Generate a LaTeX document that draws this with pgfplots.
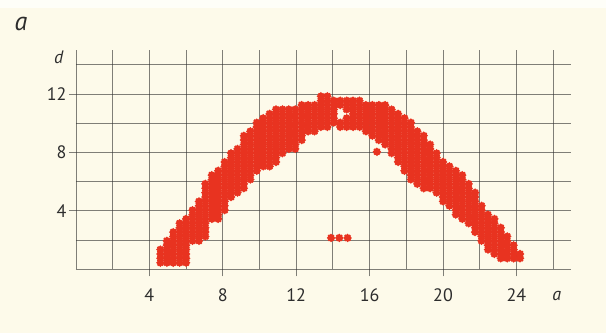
\documentclass[border=0pt]{standalone}
\usepackage{pgfplots}
\pgfplotsset{compat=1.18}
\usepackage{fontspec}
\setmainfont{PT Sans}

\definecolor{paper}{RGB}{253,250,234}
\definecolor{paperedge}{RGB}{254,254,248}
\definecolor{gridc}{RGB}{50,50,50}
\definecolor{dotred}{RGB}{232,51,32}
\definecolor{labelc}{RGB}{45,45,45}

% small eight-petal flower used for every observation
\pgfdeclareplotmark{flower}{%
  \pgfpathcircle{\pgfpointorigin}{0.58\pgfplotmarksize}%
  \pgfpathcircle{\pgfpointpolar{0}{0.68\pgfplotmarksize}}{0.32\pgfplotmarksize}%
  \pgfpathcircle{\pgfpointpolar{45}{0.68\pgfplotmarksize}}{0.32\pgfplotmarksize}%
  \pgfpathcircle{\pgfpointpolar{90}{0.68\pgfplotmarksize}}{0.32\pgfplotmarksize}%
  \pgfpathcircle{\pgfpointpolar{135}{0.68\pgfplotmarksize}}{0.32\pgfplotmarksize}%
  \pgfpathcircle{\pgfpointpolar{180}{0.68\pgfplotmarksize}}{0.32\pgfplotmarksize}%
  \pgfpathcircle{\pgfpointpolar{225}{0.68\pgfplotmarksize}}{0.32\pgfplotmarksize}%
  \pgfpathcircle{\pgfpointpolar{270}{0.68\pgfplotmarksize}}{0.32\pgfplotmarksize}%
  \pgfpathcircle{\pgfpointpolar{315}{0.68\pgfplotmarksize}}{0.32\pgfplotmarksize}%
  \pgfusepathqfill}

\begin{document}
\begin{tikzpicture}
\fill[paper] (0pt,0pt) rectangle (606pt,333pt);
\fill[paperedge] (0pt,325pt) rectangle (606pt,333pt);

\begin{axis}[
  at={(76pt,63.7pt)}, anchor=south west,
  x=18.35pt, y=14.6pt,
  xmin=0, xmax=27, ymin=0, ymax=15,
  axis lines=left,
  axis line style={-, draw=gridc, draw opacity=0.62, line width=0.95pt},
  axis on top,
  grid=both,
  grid style={draw=gridc, draw opacity=0.62, line width=0.95pt},
  minor grid style={draw=gridc, draw opacity=0.62, line width=0.95pt},
  major grid style={draw=gridc, draw opacity=0.62, line width=0.95pt},
  xtick={4,8,...,24}, minor xtick={2,6,...,26},
  ytick={4,8,12}, minor ytick={2,6,10,14},
  tick align=outside,
  major tick length=7pt, minor tick length=0pt,
  tick style={draw=gridc, draw opacity=0.62, line width=0.95pt},
  ticklabel style={font=\fontsize{18}{18}\selectfont, text=labelc},
  xticklabel style={yshift=-9pt},
  yticklabel style={xshift=1pt},
  /pgf/number format/assume math mode=true,
  xlabel={\textit{a}}, ylabel={\textit{d}},
  every axis x label/.style={at={(axis cs:26.2,-1.8)}, anchor=center,
    font=\fontsize{18}{18}\selectfont, text=labelc},
  every axis y label/.style={at={(axis cs:-0.93,14.5)}, anchor=center,
    font=\fontsize{18}{18}\selectfont, text=labelc},
  clip=false,
]
\addplot[only marks, mark=flower, mark size=4.3pt, color=dotred] coordinates {
(4.6,0.45)(4.6,0.75)(4.6,1.05)(4.6,1.35)
(4.95,0.45)(4.95,0.75)(4.95,1.05)(4.95,1.35)(4.95,1.65)(4.95,1.95)
(5.3,0.45)(5.3,0.75)(5.3,1.05)(5.3,1.35)(5.3,1.65)(5.3,1.95)(5.3,2.25)(5.3,2.55)
(5.65,0.45)(5.65,0.75)(5.65,1.05)(5.65,1.35)(5.65,1.65)(5.65,1.95)(5.65,2.25)(5.65,2.55)(5.65,2.85)(5.65,3.15)
(6.0,0.45)(6.0,0.75)(6.0,1.05)(6.0,1.35)(6.0,1.65)(6.0,1.95)(6.0,2.25)(6.0,2.55)(6.0,2.85)(6.0,3.15)(6.0,3.45)
(6.35,1.95)(6.35,2.25)(6.35,2.55)(6.35,2.85)(6.35,3.15)(6.35,3.45)(6.35,3.75)(6.35,4.05)
(6.7,1.95)(6.7,2.25)(6.7,2.55)(6.7,2.85)(6.7,3.15)(6.7,3.45)(6.7,3.75)(6.7,4.05)(6.7,4.35)(6.7,4.65)
(7.05,2.25)(7.05,2.55)(7.05,2.85)(7.05,3.15)(7.05,3.45)(7.05,3.75)(7.05,4.05)(7.05,4.35)(7.05,4.65)(7.05,4.95)(7.05,5.25)(7.05,5.55)(7.05,5.85)
(7.4,3.45)(7.4,3.75)(7.4,4.05)(7.4,4.35)(7.4,4.65)(7.4,4.95)(7.4,5.25)(7.4,5.55)(7.4,5.85)(7.4,6.15)(7.4,6.45)
(7.75,3.45)(7.75,3.75)(7.75,4.05)(7.75,4.35)(7.75,4.65)(7.75,4.95)(7.75,5.25)(7.75,5.55)(7.75,5.85)(7.75,6.15)(7.75,6.45)(7.75,6.75)
(8.1,4.05)(8.1,4.35)(8.1,4.65)(8.1,4.95)(8.1,5.25)(8.1,5.55)(8.1,5.85)(8.1,6.15)(8.1,6.45)(8.1,6.75)(8.1,7.05)(8.1,7.35)
(8.45,4.95)(8.45,5.25)(8.45,5.55)(8.45,5.85)(8.45,6.15)(8.45,6.45)(8.45,6.75)(8.45,7.05)(8.45,7.35)(8.45,7.65)(8.45,7.95)
(8.8,5.25)(8.8,5.55)(8.8,5.85)(8.8,6.15)(8.8,6.45)(8.8,6.75)(8.8,7.05)(8.8,7.35)(8.8,7.65)(8.8,7.95)(8.8,8.25)
(9.15,5.55)(9.15,5.85)(9.15,6.15)(9.15,6.45)(9.15,6.75)(9.15,7.05)(9.15,7.35)(9.15,7.65)(9.15,7.95)(9.15,8.25)(9.15,8.55)(9.15,8.85)(9.15,9.15)
(9.5,6.15)(9.5,6.45)(9.5,6.75)(9.5,7.05)(9.5,7.35)(9.5,7.65)(9.5,7.95)(9.5,8.25)(9.5,8.55)(9.5,8.85)(9.5,9.15)(9.5,9.45)
(9.85,6.75)(9.85,7.05)(9.85,7.35)(9.85,7.65)(9.85,7.95)(9.85,8.25)(9.85,8.55)(9.85,8.85)(9.85,9.15)(9.85,9.45)(9.85,9.75)(9.85,10.05)
(10.2,7.05)(10.2,7.35)(10.2,7.65)(10.2,7.95)(10.2,8.25)(10.2,8.55)(10.2,8.85)(10.2,9.15)(10.2,9.45)(10.2,9.75)(10.2,10.05)(10.2,10.35)
(10.55,7.05)(10.55,7.35)(10.55,7.65)(10.55,7.95)(10.55,8.25)(10.55,8.55)(10.55,8.85)(10.55,9.15)(10.55,9.45)(10.55,9.75)(10.55,10.05)(10.55,10.35)(10.55,10.65)
(10.9,7.35)(10.9,7.65)(10.9,7.95)(10.9,8.25)(10.9,8.55)(10.9,8.85)(10.9,9.15)(10.9,9.45)(10.9,9.75)(10.9,10.05)(10.9,10.35)(10.9,10.65)(10.9,10.95)
(11.25,7.95)(11.25,8.25)(11.25,8.55)(11.25,8.85)(11.25,9.15)(11.25,9.45)(11.25,9.75)(11.25,10.05)(11.25,10.35)(11.25,10.65)(11.25,10.95)
(11.6,8.25)(11.6,8.55)(11.6,8.85)(11.6,9.15)(11.6,9.45)(11.6,9.75)(11.6,10.05)(11.6,10.35)(11.6,10.65)(11.6,10.95)
(11.95,8.25)(11.95,8.55)(11.95,8.85)(11.95,9.15)(11.95,9.45)(11.95,9.75)(11.95,10.05)(11.95,10.35)(11.95,10.65)(11.95,10.95)
(12.3,8.85)(12.3,9.15)(12.3,9.45)(12.3,9.75)(12.3,10.05)(12.3,10.35)(12.3,10.65)(12.3,10.95)(12.3,11.25)
(12.65,9.45)(12.65,9.75)(12.65,10.05)(12.65,10.35)(12.65,10.65)(12.65,10.95)(12.65,11.25)
(13.0,9.45)(13.0,9.75)(13.0,10.05)(13.0,10.35)(13.0,10.65)(13.0,10.95)(13.0,11.25)
(13.35,9.75)(13.35,10.05)(13.35,10.35)(13.35,10.65)(13.35,10.95)(13.35,11.25)(13.35,11.55)(13.35,11.85)
(13.7,9.75)(13.7,10.05)(13.7,10.35)(13.7,10.65)(13.7,10.95)(13.7,11.25)(13.7,11.55)(13.7,11.85)
(14.05,10.05)(14.05,10.35)(14.05,10.65)(14.05,10.95)(14.05,11.25)(14.05,11.55)
(14.4,9.75)(14.4,10.05)(14.4,11.25)(14.4,11.55)
(14.75,9.75)(14.75,10.05)(14.75,10.35)(14.75,10.95)(14.75,11.25)(14.75,11.55)
(15.1,9.75)(15.1,10.05)(15.1,10.35)(15.1,10.65)(15.1,10.95)(15.1,11.25)(15.1,11.55)
(15.45,9.75)(15.45,10.05)(15.45,10.35)(15.45,10.65)(15.45,10.95)(15.45,11.25)(15.45,11.55)
(15.8,9.45)(15.8,9.75)(15.8,10.05)(15.8,10.35)(15.8,10.65)(15.8,10.95)(15.8,11.25)
(16.15,9.15)(16.15,9.45)(16.15,9.75)(16.15,10.05)(16.15,10.35)(16.15,10.65)(16.15,10.95)(16.15,11.25)
(16.4,8.05)
(16.5,8.85)(16.5,9.15)(16.5,9.45)(16.5,9.75)(16.5,10.05)(16.5,10.35)(16.5,10.65)(16.5,10.95)(16.5,11.25)
(16.85,8.55)(16.85,8.85)(16.85,9.15)(16.85,9.45)(16.85,9.75)(16.85,10.05)(16.85,10.35)(16.85,10.65)(16.85,10.95)(16.85,11.25)
(17.2,7.95)(17.2,8.25)(17.2,8.55)(17.2,8.85)(17.2,9.15)(17.2,9.45)(17.2,9.75)(17.2,10.05)(17.2,10.35)(17.2,10.65)(17.2,10.95)
(17.55,7.35)(17.55,7.65)(17.55,7.95)(17.55,8.25)(17.55,8.55)(17.55,8.85)(17.55,9.15)(17.55,9.45)(17.55,9.75)(17.55,10.05)(17.55,10.35)(17.55,10.65)
(17.9,6.75)(17.9,7.05)(17.9,7.35)(17.9,7.65)(17.9,7.95)(17.9,8.25)(17.9,8.55)(17.9,8.85)(17.9,9.15)(17.9,9.45)(17.9,9.75)(17.9,10.05)(17.9,10.35)
(18.25,6.15)(18.25,6.45)(18.25,6.75)(18.25,7.05)(18.25,7.35)(18.25,7.65)(18.25,7.95)(18.25,8.25)(18.25,8.55)(18.25,8.85)(18.25,9.15)(18.25,9.45)(18.25,9.75)(18.25,10.05)
(18.6,5.85)(18.6,6.15)(18.6,6.45)(18.6,6.75)(18.6,7.05)(18.6,7.35)(18.6,7.65)(18.6,7.95)(18.6,8.25)(18.6,8.55)(18.6,8.85)(18.6,9.15)(18.6,9.45)
(18.95,5.55)(18.95,5.85)(18.95,6.15)(18.95,6.45)(18.95,6.75)(18.95,7.05)(18.95,7.35)(18.95,7.65)(18.95,7.95)(18.95,8.25)(18.95,8.55)(18.95,8.85)(18.95,9.15)
(19.3,5.55)(19.3,5.85)(19.3,6.15)(19.3,6.45)(19.3,6.75)(19.3,7.05)(19.3,7.35)(19.3,7.65)(19.3,7.95)(19.3,8.25)(19.3,8.55)
(19.65,5.25)(19.65,5.55)(19.65,5.85)(19.65,6.15)(19.65,6.45)(19.65,6.75)(19.65,7.05)(19.65,7.35)(19.65,7.65)(19.65,7.95)
(20.0,4.65)(20.0,4.95)(20.0,5.25)(20.0,5.55)(20.0,5.85)(20.0,6.15)(20.0,6.45)(20.0,6.75)(20.0,7.05)(20.0,7.35)
(20.35,4.35)(20.35,4.65)(20.35,4.95)(20.35,5.25)(20.35,5.55)(20.35,5.85)(20.35,6.15)(20.35,6.45)(20.35,6.75)(20.35,7.05)
(20.7,3.75)(20.7,4.05)(20.7,4.35)(20.7,4.65)(20.7,4.95)(20.7,5.25)(20.7,5.55)(20.7,5.85)(20.7,6.15)(20.7,6.45)(20.7,6.75)
(21.05,3.45)(21.05,3.75)(21.05,4.05)(21.05,4.35)(21.05,4.65)(21.05,4.95)(21.05,5.25)(21.05,5.55)(21.05,5.85)(21.05,6.15)(21.05,6.45)
(21.4,3.15)(21.4,3.45)(21.4,3.75)(21.4,4.05)(21.4,4.35)(21.4,4.65)(21.4,4.95)(21.4,5.25)(21.4,5.55)(21.4,5.85)
(21.75,2.55)(21.75,2.85)(21.75,3.15)(21.75,3.45)(21.75,3.75)(21.75,4.05)(21.75,4.35)(21.75,4.65)(21.75,4.95)(21.75,5.25)
(22.1,1.95)(22.1,2.25)(22.1,2.55)(22.1,2.85)(22.1,3.15)(22.1,3.45)(22.1,3.75)(22.1,4.05)(22.1,4.35)
(22.45,1.35)(22.45,1.65)(22.45,1.95)(22.45,2.25)(22.45,2.55)(22.45,2.85)(22.45,3.15)(22.45,3.45)(22.45,3.75)
(22.8,1.05)(22.8,1.35)(22.8,1.65)(22.8,1.95)(22.8,2.25)(22.8,2.55)(22.8,2.85)(22.8,3.15)(22.8,3.45)
(23.15,0.75)(23.15,1.05)(23.15,1.35)(23.15,1.65)(23.15,1.95)(23.15,2.25)(23.15,2.55)(23.15,2.85)
(23.5,0.75)(23.5,1.05)(23.5,1.35)(23.5,1.65)(23.5,1.95)(23.5,2.25)
(23.85,0.75)(23.85,1.05)(23.85,1.35)(23.85,1.65)
(24.2,0.75)(24.2,1.05)
};
% the small separate group below the curve
\addplot[only marks, mark=flower, mark size=4.3pt, color=dotred] coordinates {
(13.9,2.15)(14.35,2.15)(14.8,2.15)
};
\end{axis}

\node[font=\fontsize{26}{26}\selectfont\itshape, text=labelc] at (21pt,309pt) {a};
\end{tikzpicture}
\end{document}
